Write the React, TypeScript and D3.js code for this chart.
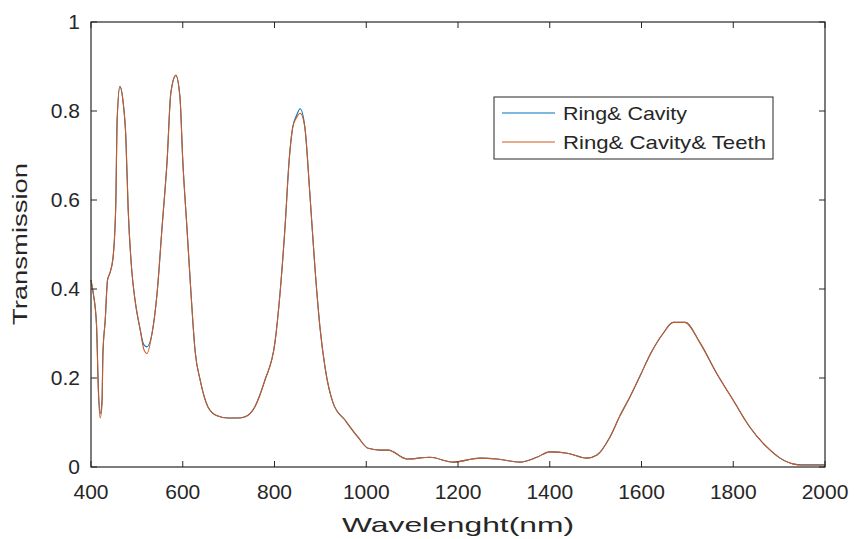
import React from "react";
import * as d3 from "d3";

const wavelengths = [400, 405, 412, 416, 420, 424, 426, 431, 436, 441, 448, 454, 457, 463, 470, 476, 481, 489, 496, 507, 515, 522, 533, 544, 555, 566, 574, 585, 594, 600, 609, 618, 627, 638, 655, 675, 699, 720, 736, 757, 779, 801, 812, 823, 832, 840, 848, 856, 866, 877, 888, 899, 910, 928, 954, 982, 1004, 1030, 1048, 1089, 1139, 1189, 1248, 1285, 1335, 1372, 1400, 1438, 1481, 1503, 1531, 1553, 1575, 1597, 1620, 1647, 1669, 1695, 1727, 1764, 1800, 1836, 1873, 1902, 1930, 1950, 2000];

const ringCavity = [0.42, 0.39, 0.32, 0.18, 0.12, 0.15, 0.255, 0.33, 0.42, 0.435, 0.47, 0.59, 0.78, 0.855, 0.82, 0.74, 0.58, 0.44, 0.375, 0.31, 0.275, 0.27, 0.30, 0.39, 0.54, 0.69, 0.84, 0.88, 0.83, 0.69, 0.54, 0.39, 0.26, 0.195, 0.135, 0.115, 0.11, 0.11, 0.113, 0.135, 0.195, 0.28, 0.39, 0.54, 0.69, 0.765, 0.79, 0.805, 0.765, 0.615, 0.45, 0.315, 0.225, 0.143, 0.105, 0.067, 0.042, 0.038, 0.038, 0.018, 0.022, 0.011, 0.02, 0.018, 0.011, 0.022, 0.034, 0.031, 0.02, 0.027, 0.067, 0.115, 0.158, 0.205, 0.255, 0.30, 0.325, 0.325, 0.28, 0.21, 0.15, 0.09, 0.045, 0.02, 0.007, 0.005, 0.005];

const ringCavityTeeth = [0.42, 0.39, 0.32, 0.17, 0.11, 0.14, 0.255, 0.33, 0.42, 0.435, 0.47, 0.59, 0.78, 0.855, 0.82, 0.74, 0.58, 0.44, 0.375, 0.31, 0.265, 0.255, 0.30, 0.39, 0.54, 0.69, 0.84, 0.88, 0.83, 0.69, 0.54, 0.39, 0.26, 0.195, 0.135, 0.115, 0.11, 0.11, 0.113, 0.135, 0.195, 0.28, 0.39, 0.54, 0.69, 0.765, 0.785, 0.795, 0.765, 0.615, 0.45, 0.315, 0.225, 0.143, 0.105, 0.067, 0.042, 0.038, 0.038, 0.018, 0.022, 0.011, 0.02, 0.018, 0.011, 0.022, 0.034, 0.031, 0.02, 0.027, 0.067, 0.115, 0.158, 0.205, 0.255, 0.30, 0.325, 0.325, 0.28, 0.21, 0.15, 0.09, 0.045, 0.02, 0.007, 0.004, 0.004];

const xTicks = [400, 600, 800, 1000, 1200, 1400, 1600, 1800, 2000];
const yTicks = [0, 0.2, 0.4, 0.6, 0.8, 1];
const seriesNames = ["Ring& Cavity", "Ring& Cavity& Teeth"];
const seriesColors = ["#0072BD", "#D0581E"];

const W = 854, H = 539;
const L = 91, R = 825, T = 22, B = 467;
const FONT = "'Liberation Sans', Arial, Helvetica, sans-serif";
const INK = "#262626";

export default function App() {
  const x = d3.scaleLinear().domain([400, 2000]).range([L, R]);
  const y = d3.scaleLinear().domain([0, 1]).range([B, T]);
  const line = d3
    .line<number>()
    .x((_, i) => x(wavelengths[i]))
    .y((v) => y(v))
    .curve(d3.curveMonotoneX);
  const series = [ringCavity, ringCavityTeeth];
  const tk = 6;
  return (
    <svg width={W} height={H} style={{ position: "absolute", left: 0, top: 0, background: "#fff" }}>
      <rect x={0} y={0} width={W} height={H} fill="#fff" />
      {series.map((s, i) => (
        <path key={i} d={line(s) || ""} fill="none" stroke={seriesColors[i]} strokeWidth={1.1} />
      ))}
      <rect x={L} y={T} width={R - L} height={B - T} fill="none" stroke={INK} strokeWidth={1.2} />
      {xTicks.map((t) => (
        <g key={"x" + t}>
          <line x1={x(t)} x2={x(t)} y1={B} y2={B - tk} stroke={INK} />
          <line x1={x(t)} x2={x(t)} y1={T} y2={T + tk} stroke={INK} />
          <text x={x(t)} y={499} textAnchor="middle" fontFamily={FONT} fontSize={21} fill={INK}>
            {t}
          </text>
        </g>
      ))}
      {yTicks.map((t) => (
        <g key={"y" + t}>
          <line x1={L} x2={L + tk} y1={y(t)} y2={y(t)} stroke={INK} />
          <line x1={R} x2={R - tk} y1={y(t)} y2={y(t)} stroke={INK} />
          <text x={80} y={y(t) + 7} textAnchor="end" fontFamily={FONT} fontSize={21} fill={INK}>
            {String(t)}
          </text>
        </g>
      ))}
      <text x={458} y={532} textAnchor="middle" fontFamily={FONT} fontSize={21} fill={INK}
        textLength={232} lengthAdjust="spacingAndGlyphs">
        Wavelenght(nm)
      </text>
      <text transform={`translate(27,244) rotate(-90)`} textAnchor="middle" fontFamily={FONT} fontSize={21} fill={INK}
        textLength={162} lengthAdjust="spacingAndGlyphs">
        Transmission
      </text>
      <rect x={494} y={97} width={279} height={62} fill="#fff" stroke={INK} strokeWidth={1} />
      {seriesNames.map((n, i) => (
        <g key={n}>
          <line x1={502} x2={555} y1={113 + i * 29} y2={113 + i * 29} stroke={seriesColors[i]} strokeWidth={1.1} />
          <text x={563} y={113 + i * 29 + 7} fontFamily={FONT} fontSize={19} fill={INK}
            textLength={i === 0 ? 124 : 203} lengthAdjust="spacingAndGlyphs">
            {n}
          </text>
        </g>
      ))}
    </svg>
  );
}
